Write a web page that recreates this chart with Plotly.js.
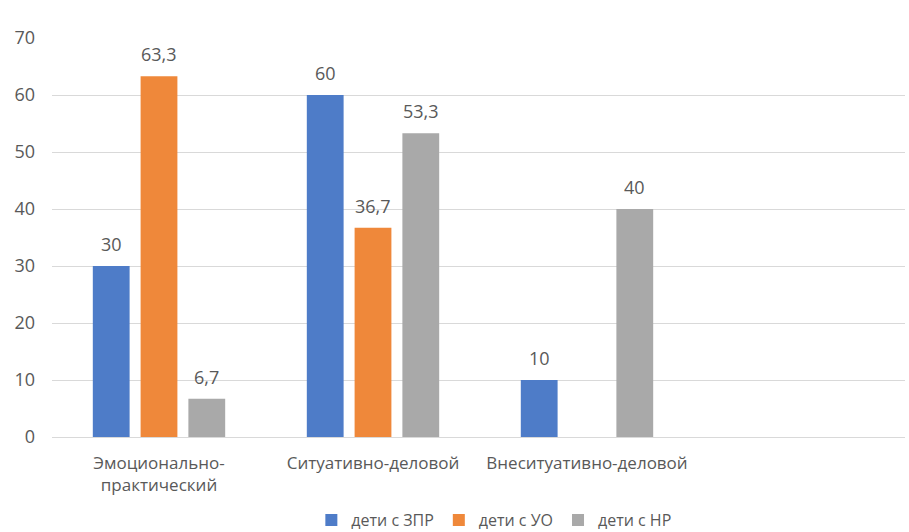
<!DOCTYPE html>
<html>
<head>
<meta charset="utf-8">
<script src="https://cdn.plot.ly/plotly-3.0.1.min.js"></script>
<style>
  html, body { margin: 0; padding: 0; background: #ffffff; }
  #chart { width: 909px; height: 532px; }
</style>
</head>
<body>
<div id="chart"></div>
<script>
// Types of communication, share of children (%)
const categories = ['Эмоционально-<br>практический', 'Ситуативно-деловой', 'Внеситуативно-деловой', ''];
const seriesNames = ['дети с ЗПР', 'дети с УО', 'дети с НР'];
const zprValues = [30, 60, 10, null];
const uoValues = [63.3, 36.7, null, null];
const nrValues = [6.7, 53.3, 40, null];
const seriesColors = ['#4e7cc8', '#ef883a', '#a9a9a9'];
const yTicks = [0, 10, 20, 30, 40, 50, 60, 70];

const positions = categories.map((_, i) => i);
const allSeries = [zprValues, uoValues, nrValues];
const grey = '#595959';
const family = 'Open Sans, sans-serif';

const traces = allSeries.map((vals, k) => ({
  type: 'bar',
  name: seriesNames[k],
  x: positions,
  y: vals,
  offsetgroup: String(k),
  marker: { color: seriesColors[k] },
  hoverinfo: 'skip'
}));

// Bar layout parameters (fraction of the category slot)
const bargap = 0.33;
const bargroupgap = 0.23;
const slot = (1 - bargap) / allSeries.length;

// Value labels placed above each bar
const annotations = [];
allSeries.forEach((vals, k) => {
  vals.forEach((v, i) => {
    if (v === null) return;
    annotations.push({
      x: i - (1 - bargap) / 2 + slot * (k + 0.5),
      y: v,
      xref: 'x',
      yref: 'y',
      text: String(v).replace('.', ','),
      showarrow: false,
      yanchor: 'bottom',
      yshift: 8,
      font: { family: family, size: 18, color: grey }
    });
  });
});

const layout = {
  width: 909,
  height: 532,
  margin: { l: 52, r: 4, t: 38, b: 95, autoexpand: false },
  paper_bgcolor: '#ffffff',
  plot_bgcolor: '#ffffff',
  separators: ', ',
  barmode: 'group',
  bargap: bargap,
  bargroupgap: bargroupgap,
  showlegend: true,
  legend: {
    orientation: 'h',
    x: 0.518,
    xanchor: 'center',
    y: -0.208,
    yanchor: 'middle',
    font: { family: family, size: 16, color: grey },
    traceorder: 'normal'
  },
  annotations: annotations,
  xaxis: {
    range: [-0.5, 3.486],
    tickmode: 'array',
    tickvals: positions,
    ticktext: categories,
    showgrid: false,
    zeroline: false,
    showline: false,
    ticks: '',
    ticklabelstandoff: 14,
    automargin: false,
    tickfont: { family: family, size: 17, color: grey },
    fixedrange: true
  },
  yaxis: {
    range: [0, 70],
    tickmode: 'array',
    tickvals: yTicks,
    showgrid: true,
    gridcolor: '#d9d9d9',
    gridwidth: 1,
    zeroline: true,
    zerolinecolor: '#d9d9d9',
    zerolinewidth: 1,
    showline: false,
    ticks: '',
    ticklabelstandoff: 16,
    automargin: false,
    tickfont: { family: family, size: 18, color: grey },
    fixedrange: true
  },
  font: { family: family, color: grey }
};

Plotly.newPlot('chart', traces, layout, { displayModeBar: false, staticPlot: true });
</script>
</body>
</html>
